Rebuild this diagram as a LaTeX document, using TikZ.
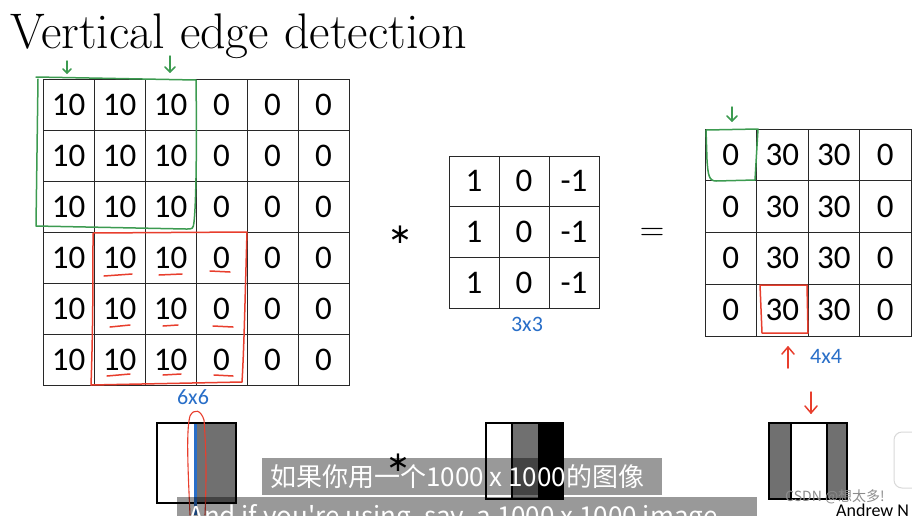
\documentclass[tikz,border=0pt]{standalone}
\usepackage{fontspec}
\newfontfamily\numfont{Carlito}
\newfontfamily\subfont{Noto Sans CJK SC}
\newfontfamily\symfont{DejaVu Sans}
\definecolor{hgreen}{RGB}{60,155,80}
\definecolor{hred}{RGB}{232,62,45}
\definecolor{hblue}{RGB}{40,110,200}
\definecolor{imggray}{RGB}{112,112,112}
\definecolor{gridc}{RGB}{40,40,40}
\tikzset{
  cellbase/.style={draw=gridc, line width=0.9pt, inner sep=0pt, font=\numfont\fontsize{33}{33}\selectfont},
  incell/.style={cellbase, minimum width=51pt, minimum height=51pt},
  fcell/.style={cellbase, minimum width=50pt, minimum height=50.7pt},
  ocell/.style={cellbase, minimum width=51.5pt, minimum height=51.75pt},
  hg/.style={draw=hgreen, line width=1.5pt, line cap=round, line join=round},
  hr/.style={draw=hred, line width=1.5pt, line cap=round, line join=round},
  hb/.style={text=hblue, font=\numfont\fontsize{22}{22}\selectfont, inner sep=0pt},
  imgbox/.style={draw=black, line width=1.6pt},
  subbox/.style={fill=black, opacity=0.4},
  subtext/.style={text=white, font=\subfont\fontsize{26}{26}\selectfont, inner sep=0pt},
  starsym/.style={font=\symfont\fontsize{28}{28}\selectfont, inner sep=0pt},
  eqsym/.style={font=\fontsize{34}{34}\selectfont, inner sep=0pt}
}
\begin{document}
\begin{tikzpicture}[x=1pt,y=-1pt]
\useasboundingbox (0,0) rectangle (912,515);
\clip (0,0) rectangle (912,515);
\fill[white] (0,0) rectangle (912,515);

% title
\node[anchor=base west, inner sep=0pt, font=\fontsize{50}{50}\selectfont] (title) at (10,48) {Vertical edge detection};

% input 6x6
\foreach \r in {1,...,6}{
  \foreach \c/\v in {1/10,2/10,3/10,4/0,5/0,6/0}{
    \node[incell] (a-\r-\c) at ({43+51*(\c-0.5)},{79+51*(\r-0.5)}) {\v};
  }
}
% filter 3x3
\foreach \r in {1,...,3}{
  \foreach \c/\v in {1/1,2/0,3/-1}{
    \node[fcell] (f-\r-\c) at ({449+50*(\c-0.5)},{156+50.7*(\r-0.5)}) {\v};
  }
}
% output 4x4
\foreach \r in {1,...,4}{
  \foreach \c/\v in {1/0,2/30,3/30,4/0}{
    \node[ocell] (o-\r-\c) at ({705+51.5*(\c-0.5)},{129+51.75*(\r-0.5)}) {\v};
  }
}

% operators
\node[starsym] (star1) at (400,235) {∗};
\node[eqsym] (eq) at (652,234) {=};

% size labels
\node[hb] (l66) at (193,397) {6x6};
\node[hb] (l33) at (527,324) {3x3};
\node[hb] (l44) at (826,356) {4x4};

% green highlight (input)
\draw[hg] (36,77) -- (196,80) .. controls (197,150) and (196,205) .. (194,222) .. controls (193,229) .. (186,229) -- (36,226) -- (38,79);
\draw[hg] (67,61) -- (67,73); \draw[hg] (63,69) -- (67,73) -- (71,69);
\draw[hg] (170,56) -- (170,72); \draw[hg] (165,67) -- (170,72) -- (175,67);
% red highlight (input)
\draw[hr] (93,233) -- (247,232) .. controls (245,300) and (244,350) .. (242,382) -- (91,385) .. controls (93,330) and (93,280) .. (93,233);
\foreach \y/\xa/\xb in {275/104/132, 326/110/130, 375/107/130}{\draw[hr] (\xa,\y+1) -- (\xb,\y-1);}
\foreach \y/\xa/\xb in {275/159/182, 326/163/178, 375/163/181}{\draw[hr] (\xa,\y) -- (\xb,\y-1);}
\foreach \y/\xa/\xb in {271/210/230, 326/213/233, 375/214/233}{\draw[hr] (\xa,\y) -- (\xb,\y+1);}

% green highlight (output)
\draw[hg] (706,130) -- (758,129) -- (755,180) -- (716,181) .. controls (709,181) and (708,175) .. (707,160) -- (706,130);
\draw[hg] (732,107) -- (732,121); \draw[hg] (727,116) -- (732,121) -- (737,116);
% red highlight (output)
\draw[hr] (760,285) -- (807,285) -- (808,333) -- (762,333) -- cycle;
\draw[hr] (788,368) -- (788,347); \draw[hr] (782,354) -- (788,347) -- (794,354);

% bottom images
\fill[white] (157,423) rectangle (196,503);
\fill[imggray] (196,423) rectangle (236,503);
\draw[imgbox] (157,423) rectangle (236,503);
\draw[draw=hblue, line width=3pt] (195,424) -- (195,515);
\draw[hr, line width=1.1pt] (190,515) .. controls (188,470) and (186,430) .. (190,416) .. controls (194,408) and (201,410) .. (204,420) .. controls (207,460) and (206,490) .. (205,515);

\fill[white] (486,423) rectangle (512,499);
\fill[imggray] (512,423) rectangle (538,499);
\fill[black] (538,423) rectangle (563,499);
\draw[imgbox] (486,423) rectangle (563,499);
\draw[line width=1.2pt] (512,423) -- (512,499);

\fill[imggray] (769,423) rectangle (791,499);
\fill[white] (791,423) rectangle (827,499);
\fill[imggray] (827,423) rectangle (847,499);
\draw[imgbox] (769,423) rectangle (847,499);
\draw[line width=1.8pt] (791,423) -- (791,499) (827,423) -- (827,499);
\draw[hr] (811,392) -- (811,413); \draw[hr] (805,406) -- (811,413) -- (817,406);

% subtitles
\fill[subbox] (262,458) rectangle (662,495);
\node[subtext, anchor=west] (sub1) at (270,477) {如果你用一个1000 x 1000的图像};
\fill[subbox] (177,497) rectangle (757,520);
\node[subtext, anchor=base west] (sub2) at (188,525) {And if you're using, say, a 1000 x 1000 image};
\node[starsym] (star2) at (398,463) {∗};

% watermarks
\node[anchor=west, inner sep=0pt, text=black!45, font=\subfont\fontsize{14}{14}\selectfont] (wm) at (785,497) {CSDN @想太多!};
\node[anchor=base west, inner sep=0pt, font=\numfont\fontsize{18}{18}\selectfont] (an) at (836,516) {Andrew N};
\draw[draw=black!15, fill=white, rounded corners=8pt, line width=1pt] (894,432) rectangle (925,488);
\end{tikzpicture}
\end{document}
